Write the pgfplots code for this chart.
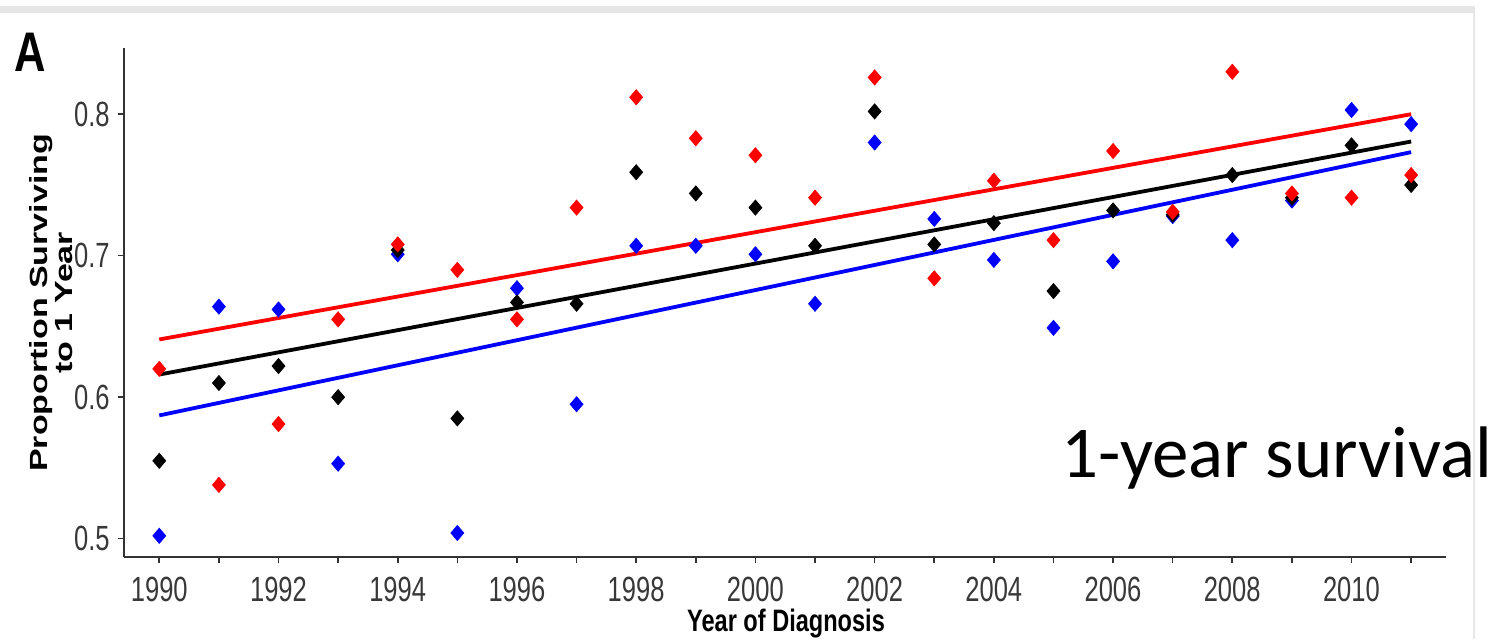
\documentclass[border=0pt]{standalone}
\usepackage{pgfplots}
\pgfplotsset{compat=1.18}
\usepackage{pgfplotstable}
\usepackage{fontspec}
\setmainfont{Liberation Sans}
\newfontfamily\carlito{Carlito}
\definecolor{tickgray}{HTML}{383838}
\definecolor{axisgray}{HTML}{333333}
\definecolor{framegray}{HTML}{E6E6E6}

\pgfplotstableread{
year red black blue
1990 0.620 0.555 0.502
1991 0.538 0.610 0.664
1992 0.581 0.622 0.662
1993 0.655 0.600 0.553
1994 0.708 0.704 0.701
1995 0.690 0.585 0.504
1996 0.655 0.667 0.677
1997 0.734 0.666 0.595
1998 0.812 0.759 0.707
1999 0.783 0.744 0.707
2000 0.771 0.734 0.701
2001 0.741 0.707 0.666
2002 0.826 0.802 0.780
2003 0.684 0.708 0.726
2004 0.753 0.723 0.697
2005 0.711 0.675 0.649
2006 0.774 0.732 0.696
2007 0.731 0.729 0.728
2008 0.830 0.757 0.711
2009 0.744 0.741 0.739
2010 0.741 0.778 0.803
2011 0.757 0.750 0.793
}\survival

\pgfplotstableread{
year red black blue
1990 0.6408 0.6160 0.5871
2011 0.8000 0.7807 0.7732
}\fits

\begin{document}
\begin{tikzpicture}
\path[use as bounding box] (-62pt,-41pt) rectangle (691.5pt,278.65pt);
\fill[framegray] (-62pt,272.3pt) rectangle (675.5pt,275.6pt);
\draw[framegray, line width=1pt] (675pt,274pt) -- (675pt,-41pt);
\begin{axis}[
  at={(0,0)}, anchor=south west,
  scale only axis, width=661pt, height=254.5pt,
  xmin=1989.408, xmax=2011.585, ymin=0.4868, ymax=0.8466,
  axis x line*=bottom, axis y line*=left,
  axis line style={axisgray, line width=1pt, -},
  tick style={axisgray, line width=0.8pt},
  tick align=outside, major tick length=3pt,
  xtick={1990,...,2011},
  xticklabels={1990,,1992,,1994,,1996,,1998,,2000,,2002,,2004,,2006,,2008,,2010,},
  ytick={0.5,0.6,0.7,0.8}, yticklabels={0.5,0.6,0.7,0.8},
  tick label style={text=tickgray, font=\fontsize{17.5}{17.5}\selectfont, xscale=0.73, inner sep=0pt},
  xticklabel style={anchor=north, yshift=-6.85pt},
  yticklabel style={anchor=east, xshift=-5.5pt},
  clip=false,
]
\addplot[red, line width=1.9pt] table[x=year, y=red]{\fits};
\addplot[black, line width=1.9pt] table[x=year, y=black]{\fits};
\addplot[blue, line width=1.9pt] table[x=year, y=blue]{\fits};
\addplot[only marks, mark=diamond*, mark size=3.75pt, color=blue, mark options={xscale=1.14, draw=none, fill=blue}] table[x=year, y=blue]{\survival};
\addplot[only marks, mark=diamond*, mark size=3.75pt, color=black, mark options={xscale=1.14, draw=none, fill=black}] table[x=year, y=black]{\survival};
\addplot[only marks, mark=diamond*, mark size=3.75pt, color=red, mark options={xscale=1.14, draw=none, fill=red}] table[x=year, y=red]{\survival};
\end{axis}
\node[font=\bfseries\fontsize{27.9}{27.9}\selectfont, xscale=0.78, anchor=base, inner sep=0pt] at (-47pt,243pt) {A};
\node[font=\bfseries\fontsize{15.5}{15.5}\selectfont, xscale=0.76, anchor=base, inner sep=0pt] at (331pt,-36.85pt) {Year of Diagnosis};
\node[rotate=90, yscale=0.73, align=center, anchor=south, inner sep=0pt, font=\bfseries\fontsize{17}{17}\selectfont] at (-25.5pt,127.25pt) {Proportion Surviving\\to 1 Year};
\node[font=\carlito\fontsize{36.5}{36.5}\selectfont, anchor=base west, inner sep=0pt] at (468.5pt,39.85pt) {1-year survival};
\end{tikzpicture}
\end{document}
